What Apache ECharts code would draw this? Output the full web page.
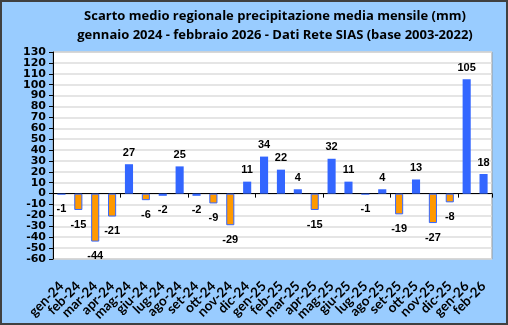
<!DOCTYPE html>
<html><head><meta charset="utf-8">
<script src="https://cdn.jsdelivr.net/npm/echarts@6/dist/echarts.min.js"></script>
<style>html,body{margin:0;padding:0;background:#fff}#c{width:508px;height:325px}</style>
</head><body><div id="c"></div>
<script>
var categories = ['gen-24','feb-24','mar-24','apr-24','mag-24','giu-24','lug-24','ago-24','set-24','ott-24','nov-24','dic-24','gen-25','feb-25','mar-25','apr-25','mag-25','giu-25','lug-25','ago-25','set-25','ott-25','nov-25','dic-25','gen-26','feb-26'];
var values = [-1,-15,-44,-21,27,-6,-2,25,-2,-9,-29,11,34,22,4,-15,32,11,-1,4,-19,13,-27,-8,105,18];
var titleLines = ['Scarto medio regionale precipitazione media mensile (mm)','gennaio 2024 - febbraio 2026 - Dati Rete SIAS (base 2003-2022)'];
var yMin = -60, yMax = 130, yStep = 10;

var BLUE = '#3366FF', ORANGE = '#FF9900';
var data = values.map(function(v){
  var neg = v < 0;
  var orange = v <= -5;
  return {
    value: v,
    itemStyle: {color: orange ? ORANGE : BLUE, borderColor: BLUE, borderWidth: orange ? 1 : 0},
    label: {position: neg ? 'bottom' : 'top', distance: neg ? 9 : 6}
  };
});
var titleStyle = {fontFamily:'Open Sans', fontWeight:'bold', fontSize:13, fill:'#000', align:'center', verticalAlign:'middle'};
var chart = echarts.init(document.getElementById('c'), null, {renderer:'canvas'});
chart.setOption({
  backgroundColor: '#99CCFF',
  animation: false,
  graphic: [
    {type:'rect', shape:{x:1,y:1,width:506,height:323}, style:{fill:'none', stroke:'#404040', lineWidth:2}, silent:true},
    {type:'text', x:275, y:16, style: Object.assign({text: titleLines[0]}, titleStyle)},
    {type:'text', x:275, y:35, style: Object.assign({text: titleLines[1]}, titleStyle)}
  ],
  grid: {left:53, right:16, top:52, bottom:66, show:true, backgroundColor:'#fff', borderColor:'#999999', borderWidth:1},
  xAxis: [{
    type:'category', data: categories, position:'bottom',
    axisLine:{onZero:true, lineStyle:{color:'#000', width:1}},
    axisTick:{show:true, alignWithLabel:false, length:4, lineStyle:{color:'#000'}},
    axisLabel:{show:false}, splitLine:{show:false}
  },{
    type:'category', data: categories, position:'bottom',
    axisLine:{show:false, onZero:false}, axisTick:{show:false},
    axisLabel:{show:true, interval:0, rotate:45, margin:25, fontFamily:'Lato', fontWeight:'bold', fontSize:13.5, color:'#000'}
  }],
  yAxis: {
    type:'value', min:yMin, max:yMax, interval:yStep,
    axisLine:{show:true, onZero:false, lineStyle:{color:'#000'}},
    axisTick:{show:true, length:4, lineStyle:{color:'#000'}},
    axisLabel:{fontFamily:'DejaVu Sans', fontWeight:'bold', fontSize:11, color:'#000', margin:7},
    splitLine:{lineStyle:{color:'#DCDCDC', width:1.5}}
  },
  series: [{
    type:'bar', data: data, xAxisIndex:0, barWidth:'48%',
    label:{show:true, fontFamily:'Liberation Sans', fontWeight:'bold', fontSize:11, color:'#000'}
  }]
});
</script></body></html>
